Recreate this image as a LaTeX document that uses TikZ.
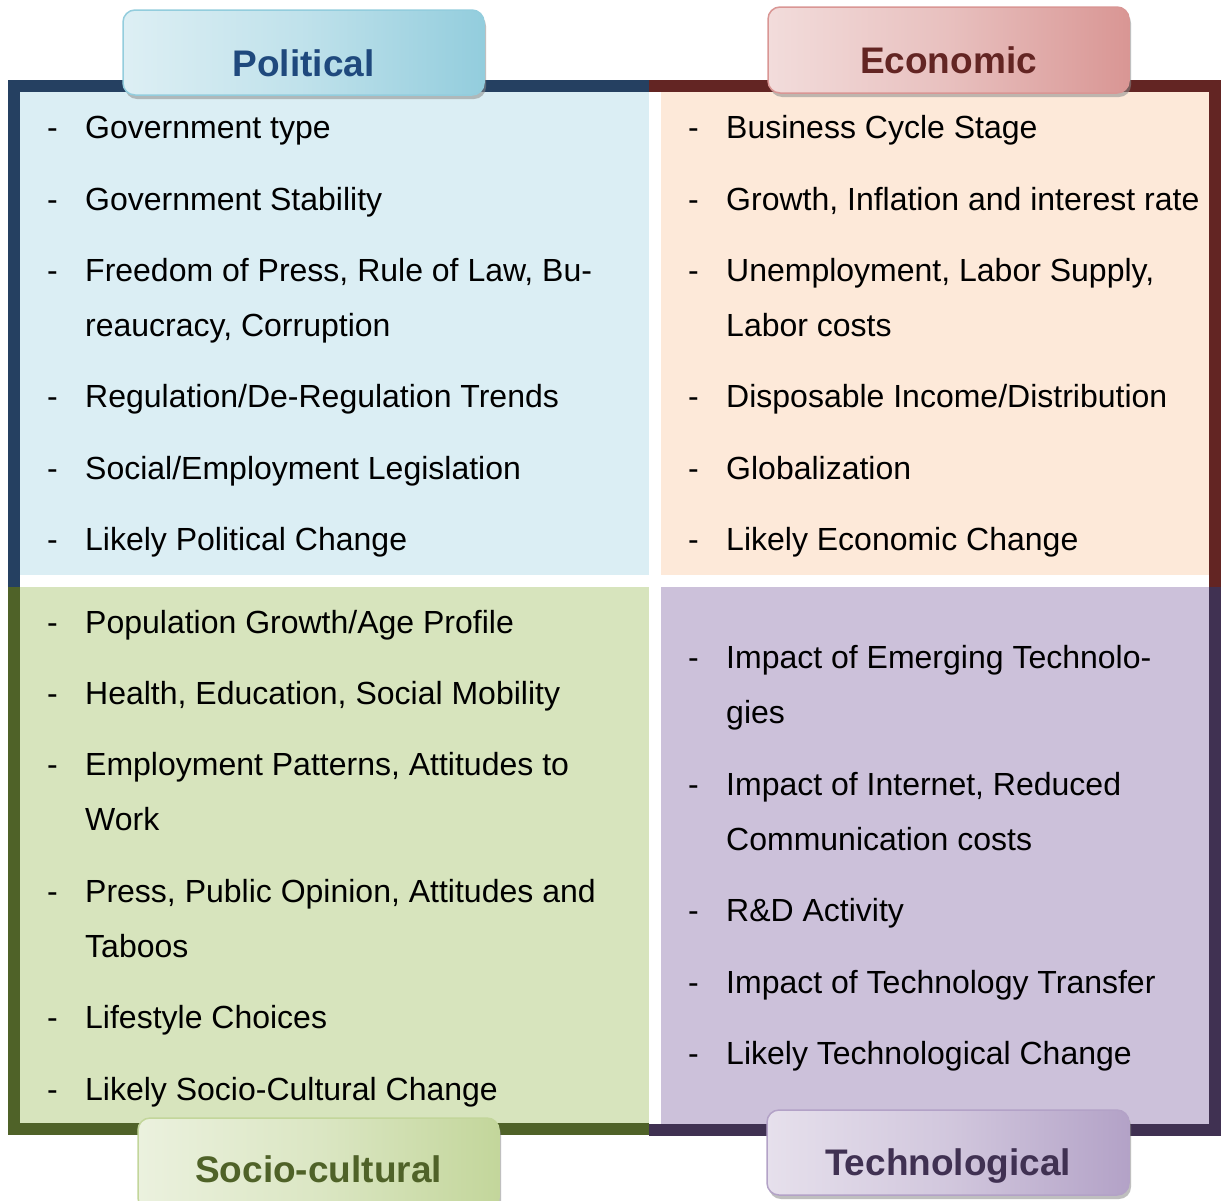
\documentclass[tikz,border=0pt]{standalone}
\usepackage{fontspec}
\setmainfont{Liberation Sans}
\usetikzlibrary{shadows}
\definecolor{polframe}{HTML}{254061}
\definecolor{polfill}{HTML}{DBEEF4}
\definecolor{poltabL}{HTML}{DDEFF4}
\definecolor{poltabD}{HTML}{93CDDD}
\definecolor{poltext}{HTML}{1F497D}
\definecolor{ecoframe}{HTML}{632523}
\definecolor{ecofill}{HTML}{FDE9D9}
\definecolor{ecotabL}{HTML}{F2DCDB}
\definecolor{ecotabD}{HTML}{D99694}
\definecolor{ecotext}{HTML}{632523}
\definecolor{socframe}{HTML}{4F6228}
\definecolor{socfill}{HTML}{D7E4BD}
\definecolor{soctabL}{HTML}{EBF1DE}
\definecolor{soctabD}{HTML}{C3D69B}
\definecolor{soctext}{HTML}{4F6228}
\definecolor{tecframe}{HTML}{403152}
\definecolor{tecfill}{HTML}{CCC1DA}
\definecolor{tectabL}{HTML}{E6E0EC}
\definecolor{tectabD}{HTML}{B3A2C7}
\definecolor{tectext}{HTML}{403152}
\begin{document}
\begin{tikzpicture}[x=1pt,y=-1pt,
  item/.style={inner sep=0pt, anchor=base west, font=\fontsize{32}{38}\selectfont, text=black},
  bullet/.style={item},
  tabbox/.style={draw=#1tabD, line width=1.5pt, rounded corners=12pt,
     left color=#1tabL, right color=#1tabD, middle color=#1tabL!60!#1tabD,
     drop shadow={shadow xshift=2pt, shadow yshift=-4pt, fill=black!45, opacity=0.55}},
  tablabel/.style={inner sep=0pt, anchor=base, font=\bfseries\fontsize{37}{40}\selectfont, text=#1text}
]
\useasboundingbox (0,0) rectangle (1222,1200);
\fill[white] (0,0) rectangle (1222,1200);
% Political quadrant
\fill[polframe] (8,80) rectangle (20,587);
\fill[polframe] (8,80) rectangle (649,92);
\fill[polfill] (20,92) rectangle (649,575);
% Economic quadrant
\fill[ecoframe] (649,80) rectangle (1221,92);
\fill[ecoframe] (1209,80) rectangle (1221,587);
\fill[ecofill] (661,92) rectangle (1209,575);
% Socio-cultural quadrant
\fill[socframe] (8,587) rectangle (20,1135);
\fill[socframe] (8,1123) rectangle (649,1135);
\fill[socfill] (20,587) rectangle (649,1123);
% Technological quadrant
\fill[tecframe] (1209,587) rectangle (1221,1136);
\fill[tecframe] (649,1124) rectangle (1221,1136);
\fill[tecfill] (661,587) rectangle (1209,1124);

% Political items
\foreach \y/\n in {138/1,210/2,281/3,407/4,479/5,550/6} \node[bullet] (pd\n) at (47,\y) {-};
\node[item] (p1) at (85,138) {Government type};
\node[item] (p2) at (85,210) {Government Stability};
\node[item] (p3) at (85,281) {Freedom of Press, Rule of Law, Bu-};
\node[item] (p3b) at (85,336) {reaucracy, Corruption};
\node[item] (p4) at (85,407) {Regulation/De-Regulation Trends};
\node[item] (p5) at (85,479) {Social/Employment Legislation};
\node[item] (p6) at (85,550) {Likely Political Change};

% Economic items
\foreach \y/\n in {138/1,210/2,281/3,407/4,479/5,550/6} \node[bullet] (ed\n) at (688,\y) {-};
\node[item] (e1) at (726,138) {Business Cycle Stage};
\node[item] (e2) at (726,210) {Growth, Inflation and interest rate};
\node[item] (e3) at (726,281) {Unemployment, Labor Supply,};
\node[item] (e3b) at (726,336) {Labor costs};
\node[item] (e4) at (726,407) {Disposable Income/Distribution};
\node[item] (e5) at (726,479) {Globalization};
\node[item] (e6) at (726,550) {Likely Economic Change};

% Socio-cultural items
\foreach \y/\n in {633/1,704/2,775/3,902/4,1028/5,1100/6} \node[bullet] (sd\n) at (47,\y) {-};
\node[item] (s1) at (85,633) {Population Growth/Age Profile};
\node[item] (s2) at (85,704) {Health, Education, Social Mobility};
\node[item] (s3) at (85,775) {Employment Patterns, Attitudes to};
\node[item] (s3b) at (85,830) {Work};
\node[item] (s4) at (85,902) {Press, Public Opinion, Attitudes and};
\node[item] (s4b) at (85,957) {Taboos};
\node[item] (s5) at (85,1028) {Lifestyle Choices};
\node[item] (s6) at (85,1100) {Likely Socio-Cultural Change};

% Technological items
\foreach \y/\n in {668/1,795/2,921/3,993/4,1064/5} \node[bullet] (td\n) at (688,\y) {-};
\node[item] (t1) at (726,668) {Impact of Emerging Technolo-};
\node[item] (t1b) at (726,723) {gies};
\node[item] (t2) at (726,795) {Impact of Internet, Reduced};
\node[item] (t2b) at (726,850) {Communication costs};
\node[item] (t3) at (726,921) {R\&D Activity};
\node[item] (t4) at (726,993) {Impact of Technology Transfer};
\node[item] (t5) at (726,1064) {Likely Technological Change};

% Tabs
\draw[tabbox=pol] (123,10) rectangle (484,95);
\node[tablabel=pol] (polt) at (303.5,76) {Political};
\draw[tabbox=eco] (768,7) rectangle (1129,93);
\node[tablabel=eco] (ecot) at (948.5,73.5) {Economic};
\draw[tabbox=soc] (138,1118) rectangle (499,1210);
\node[tablabel=soc] (soct) at (318.5,1182.5) {Socio-cultural};
\draw[tabbox=tec] (767,1110) rectangle (1129,1195);
\node[tablabel=tec] (tect) at (948,1175.5) {Technological};
\end{tikzpicture}
\end{document}
